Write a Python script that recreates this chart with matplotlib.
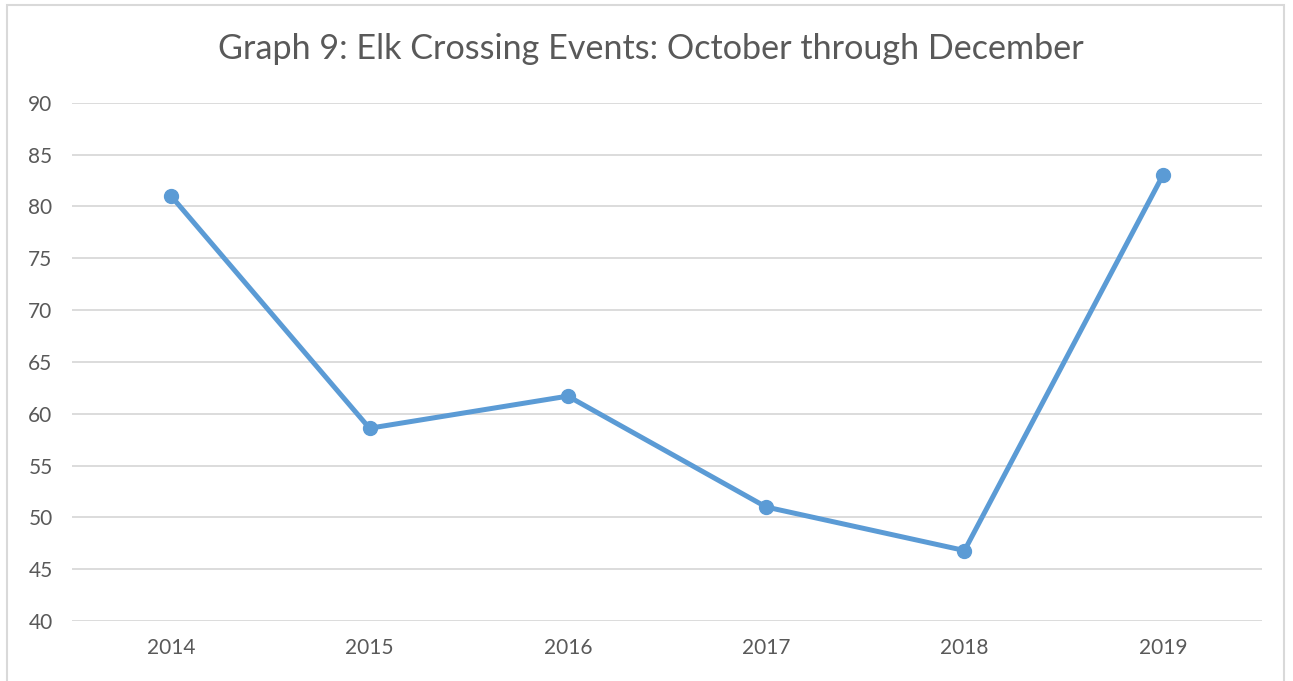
import matplotlib.pyplot as plt
from matplotlib.patches import Rectangle

years = ['2014', '2015', '2016', '2017', '2018', '2019']
events = [81.0, 58.6, 61.7, 51.0, 46.8, 83.0]
yticks = [40, 45, 50, 55, 60, 65, 70, 75, 80, 85, 90]

plt.rcParams['font.family'] = ['Lato', 'DejaVu Sans']

fig = plt.figure(figsize=(12.93, 6.81), dpi=100)
ax = fig.add_axes([0.0557, 0.0881, 0.9203, 0.7609])

x = range(len(years))
ax.plot(x, events, color='#5B9BD5', linewidth=3.6, marker='o', markersize=10, zorder=3)

ax.set_xlim(-0.5, len(years) - 0.5)
ax.set_ylim(40, 90)
ax.set_yticks(yticks)
ax.set_xticks(list(x))
ax.set_xticklabels(years)
ax.grid(axis='y', color='#D9D9D9', linewidth=1.3)
ax.set_axisbelow(True)
for s in ax.spines.values():
    s.set_visible(False)
ax.tick_params(length=0, labelsize=15, colors='#595959', pad=12)
ax.tick_params(axis='y', pad=14)

fig.text(0.503, 0.928, 'Graph 9: Elk Crossing Events: October through December',
         ha='center', va='center', fontsize=24.6, color='#595959')

# thin chart border
fig.patches.append(Rectangle((0.0054, -0.01), 0.988, 1.003, transform=fig.transFigure,
                             fill=False, edgecolor='#D9D9D9', linewidth=1.5))

fig.savefig('out.png', dpi=100)
